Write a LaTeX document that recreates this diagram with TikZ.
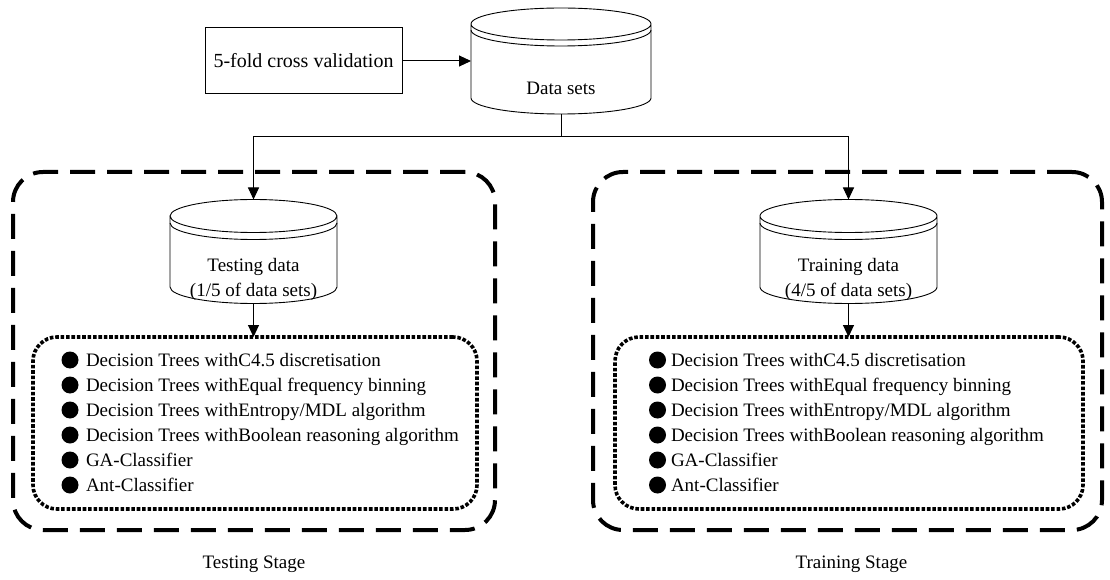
\documentclass[tikz,border=0pt]{standalone}
\usepackage{fontspec}
\setmainfont{Liberation Serif}
\usetikzlibrary{arrows.meta,calc}

\tikzset{
  flow/.style={line width=1pt,-{Triangle[length=12pt,width=11pt]}},
  plain/.style={line width=1pt},
  stagebox/.style={draw,line width=4pt,dash pattern=on 25pt off 12pt,
    rounded corners=30pt,inner sep=0pt,outer sep=0pt},
  listbox/.style={draw,line width=3.6pt,dash pattern=on 3.6pt off 1.8pt,
    rounded corners=24pt,inner sep=0pt,outer sep=0pt},
  txt/.style={font=\fontsize{19}{25}\selectfont,inner sep=0pt,outer sep=0pt},
  item/.style={txt,anchor=base west},
  hold/.style={inner sep=0pt,outer sep=0pt},
  blob/.style={fill=black},
}

% outline of a drum-shaped data store around an empty node
% #1 node name, #2 x radius, #3 y radius, #4 offset of the second rim line
\newcommand\drumshape[4]{%
  \draw[line width=0.9pt]
    ($(#1.north west)+(0,-#3)$) coordinate (#1-tl)
    -- ($(#1.south west)+(0,#3)$)
    arc[start angle=180,end angle=360,x radius=#2,y radius=#3]
    -- ($(#1.north east)+(0,-#3)$)
    arc[start angle=0,end angle=360,x radius=#2,y radius=#3];
  \draw[line width=0.9pt] ($(#1-tl)+(0,-#4)$)
    arc[start angle=180,end angle=360,x radius=#2,y radius=#3];
}

\begin{document}
\begin{tikzpicture}[x=1pt,y=1pt]
\useasboundingbox (0,0) rectangle (1110,579);

% source of the folds and the full data store
\node[draw,line width=1pt,minimum width=197pt,minimum height=66pt,
      inner sep=0pt,outer sep=0pt,font=\fontsize{20}{24}\selectfont]
      (cv) at (303.5,518) {5-fold cross validation};
\node[hold,minimum width=180pt,minimum height=106pt] (data) at (561,518) {};
\drumshape{data}{90}{16}{6}
\node[txt,anchor=base] (datatxt) at (561,484.7) {Data sets};

% stage frames
\node[stagebox,minimum width=482pt,minimum height=358pt] (teststage) at (254,228) {};
\node[stagebox,minimum width=509pt,minimum height=358pt] (trainstage) at (847.5,228) {};
\node[txt,anchor=base] (testlbl) at (254,11) {Testing Stage};
\node[txt,anchor=base] (trainlbl) at (851.5,11) {Training Stage};

% split data stores
\node[hold,minimum width=167pt,minimum height=104pt] (test) at (253.5,327.5) {};
\drumshape{test}{83.5}{16.5}{7}
\node[txt,anchor=base] (testtxt1) at (253.5,307.3) {Testing data};
\node[txt,anchor=base] (testtxt2) at (253.5,283) {(1/5 of data sets)};

\node[hold,minimum width=177pt,minimum height=104pt] (train) at (848.5,327.5) {};
\drumshape{train}{88.5}{16.5}{7}
\node[txt,anchor=base] (traintxt1) at (848.5,307.3) {Training data};
\node[txt,anchor=base] (traintxt2) at (848.5,283) {(4/5 of data sets)};

% classifier lists
\node[listbox,minimum width=444pt,minimum height=172pt] (testlist) at (255,156) {};
\node[listbox,minimum width=468pt,minimum height=172pt] (trainlist) at (849,156) {};

\foreach \lx/\bx/\tag in {86/70/a,671/657.5/b}{
  \foreach \k/\line in {0/{Decision Trees withC4.5 discretisation},
                        1/{Decision Trees withEqual frequency binning},
                        2/{Decision Trees withEntropy/MDL algorithm},
                        3/{Decision Trees withBoolean reasoning algorithm},
                        4/{GA-Classifier},
                        5/{Ant-Classifier}}{
    \fill[blob] (\bx,219-25*\k) circle (8.5);
    \node[item] (item-\tag-\k) at (\lx,213-25*\k) {\line};
  }
}

% connectors
\coordinate (split) at (561,442);
\draw[flow] (cv.east) -- (data.west);
\draw[plain] (data.south) -- (split);
\draw[flow] (split) -| (test.north);
\draw[flow] (split) -| (train.north);
\draw[flow] (test.south) -- (test.south |- testlist.north);
\draw[flow] (train.south) -- (train.south |- trainlist.north);
\end{tikzpicture}
\end{document}
